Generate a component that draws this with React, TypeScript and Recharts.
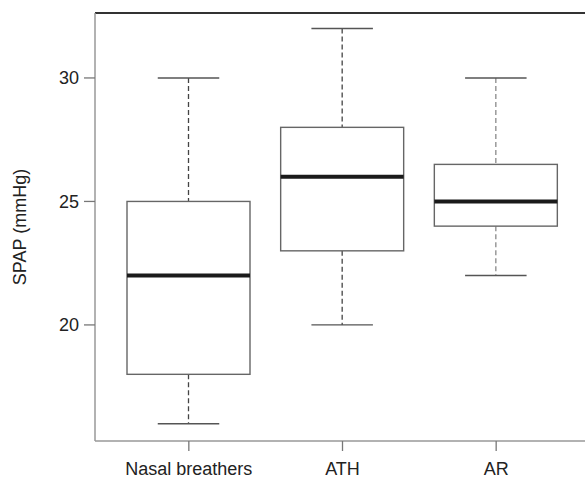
import { Bar, ComposedChart, ReferenceLine, XAxis, YAxis } from 'recharts'

// box plot summary per group
const groups = ['Nasal breathers', 'ATH', 'AR']
const whiskerLow = [16, 20, 22]
const q1 = [18, 23, 24]
const median = [22, 26, 25]
const q3 = [25, 28, 26.5]
const whiskerHigh = [30, 32, 30]
const yTicks = [20, 25, 30]

const data = groups.map((name, i) => ({
  name,
  low: whiskerLow[i],
  q1: q1[i],
  median: median[i],
  q3: q3[i],
  high: whiskerHigh[i],
}))

const whiskerColor: Record<string, string> = {
  'Nasal breathers': '#444',
  ATH: '#444',
  AR: '#8a8a8a',
}

const BoxShape = (props: any) => {
  const { x, y, width, height, payload } = props
  const top = Math.min(y, y + height)
  const h = Math.abs(height)
  const span = payload.high - payload.low
  const py = (v: number) => top + ((payload.high - v) / span) * h
  const cx = x + width / 2
  const cap = width / 4
  const wc = whiskerColor[payload.name] || '#444'
  return (
    <g>
      <line x1={cx} x2={cx} y1={py(payload.high)} y2={py(payload.q3)} stroke={wc} strokeWidth={1.3} strokeDasharray="5 3" />
      <line x1={cx} x2={cx} y1={py(payload.q1)} y2={py(payload.low)} stroke={wc} strokeWidth={1.3} strokeDasharray="5 3" />
      <line x1={cx - cap} x2={cx + cap} y1={py(payload.high)} y2={py(payload.high)} stroke="#555" strokeWidth={1.4} />
      <line x1={cx - cap} x2={cx + cap} y1={py(payload.low)} y2={py(payload.low)} stroke="#555" strokeWidth={1.4} />
      <rect
        x={x}
        y={py(payload.q3)}
        width={width}
        height={py(payload.q1) - py(payload.q3)}
        fill="#fff"
        stroke="#666"
        strokeWidth={1.4}
      />
      <line x1={x} x2={x + width} y1={py(payload.median)} y2={py(payload.median)} stroke="#1a1a1a" strokeWidth={4} />
    </g>
  )
}

export default function App() {
  return (
    <div style={{ position: 'absolute', left: 0, top: 0, width: 585, height: 479, overflow: 'hidden', background: '#fff' }}>
      <ComposedChart
        width={600}
        height={479}
        data={data}
        margin={{ top: 13, right: 10, bottom: 0, left: 0 }}
        style={{ fontFamily: '"Liberation Sans", Arial, sans-serif' }}
      >
        <XAxis
          dataKey="name"
          height={38}
          padding={{ left: 17, right: 17 }}
          axisLine={{ stroke: '#999', strokeWidth: 1.5 }}
          tickLine={{ stroke: '#777', strokeWidth: 1.3 }}
          tickSize={10}
          tickMargin={11}
          tick={{ fontSize: 18, fill: '#222' }}
          interval={0}
        />
        <YAxis
          type="number"
          domain={[15.3, 32.63]}
          ticks={yTicks}
          allowDataOverflow
          width={95}
          axisLine={{ stroke: '#999', strokeWidth: 1.5 }}
          tickLine={{ stroke: '#777', strokeWidth: 1.3 }}
          tickSize={11}
          tickMargin={5}
          tick={{ fontSize: 18, fill: '#222' }}
          label={{
            value: 'SPAP (mmHg)',
            angle: -90,
            position: 'insideLeft',
            offset: 20,
            textAnchor: 'middle',
            style: { fontSize: 18, fill: '#222' },
          }}
        />
        <ReferenceLine y={32.63} stroke="#333" strokeWidth={1.8} />
        <Bar
          dataKey={(d: any) => [d.low, d.high]}
          barSize={123}
          shape={BoxShape}
          isAnimationActive={false}
        />
      </ComposedChart>
    </div>
  )
}
